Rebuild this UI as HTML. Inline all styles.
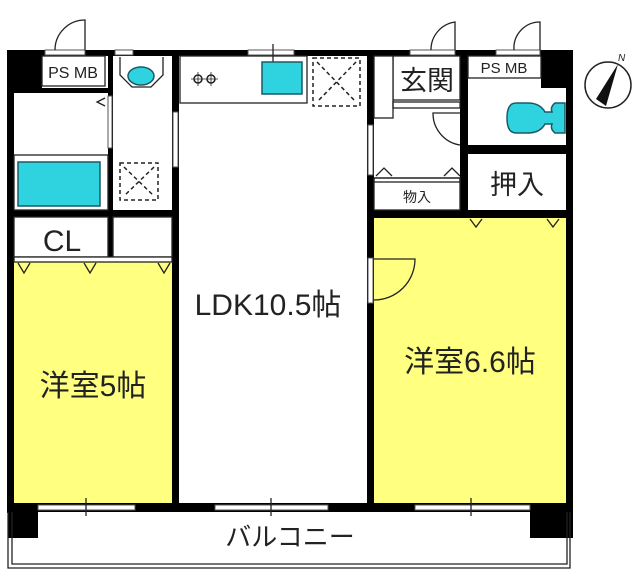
<!DOCTYPE html>
<html><head><meta charset="utf-8"><style>
body{margin:0;background:#fff}
text{font-family:"Liberation Sans","Noto Sans CJK JP",sans-serif;fill:#222}
</style></head><body>
<svg width="640" height="579" viewBox="0 0 640 579" xmlns="http://www.w3.org/2000/svg">
<rect width="640" height="579" fill="#fff"/>
<rect x="14" y="262" width="158" height="241" fill="#ffff80"/>
<rect x="374" y="218" width="192" height="285" fill="#ffff80"/>
<g fill="#000">
<rect x="7" y="50" width="7" height="463"/>
<rect x="566" y="50" width="7" height="463"/>
<rect x="7" y="50" width="566" height="6"/>
<rect x="7" y="503" width="566" height="9"/>
<rect x="7" y="50" width="35" height="42"/>
<rect x="541" y="50" width="32" height="38"/>
<rect x="8" y="505" width="30" height="33"/>
<rect x="530" y="505" width="43" height="33"/>
<rect x="172" y="56" width="7" height="447"/>
<rect x="367" y="56" width="7" height="447"/>
<rect x="108" y="56" width="5" height="206"/>
<rect x="14" y="88" width="94" height="5"/>
<rect x="14" y="210" width="158" height="7"/>
<rect x="460" y="56" width="8" height="160"/>
<rect x="468" y="145" width="98" height="9"/>
<rect x="374" y="210" width="192" height="8"/>
<rect x="14" y="257" width="158" height="5"/>
</g>
<g fill="#fff" stroke="#555" stroke-width="1">
<rect x="45" y="50" width="40" height="5"/>
<rect x="115" y="50" width="18" height="5"/>
<rect x="248" y="50" width="46" height="5"/>
<rect x="410" y="50" width="45" height="5"/>
<rect x="496" y="50" width="44" height="5"/>
<rect x="173" y="112" width="5" height="55"/>
<rect x="108" y="96" width="4" height="52"/>
<rect x="368" y="125" width="5" height="50"/>
<rect x="368" y="258" width="5" height="45"/>
<rect x="38" y="505" width="97" height="5"/>
<rect x="215" y="505" width="113" height="5"/>
<rect x="415" y="505" width="115" height="5"/>
</g>
<g stroke="#222" stroke-width="1.3" fill="none">
<path d="M55 50 A30 30 0 0 1 85 20 V50"/>
<path d="M431 50 A28 28 0 0 1 455 22 V50"/>
<path d="M514 50 A26 26 0 0 1 540 22 V50"/>
<path d="M460 145 A32 32 0 0 1 433 113 H460"/>
<path d="M374 300 A41 41 0 0 0 415 259 H374"/>
<line x1="86" y1="498" x2="86" y2="516"/>
<line x1="271" y1="498" x2="271" y2="516"/>
<line x1="471" y1="498" x2="471" y2="516"/>
<line x1="273" y1="44" x2="273" y2="62"/>
<rect x="42" y="56" width="63" height="30" fill="#fff"/>
<rect x="468" y="56" width="73" height="22" fill="#fff"/>
<rect x="393" y="56" width="67" height="44" fill="#fff"/>
<rect x="374" y="56" width="19" height="62" fill="#fff"/>
<rect x="393" y="102" width="67" height="6"/>
<rect x="374" y="178" width="86" height="32"/>
<rect x="374" y="178" width="86" height="4"/>
<rect x="180" y="56" width="127" height="47"/>
<rect x="14" y="155" width="94" height="55"/>
<rect x="14" y="217" width="94" height="40" fill="#fff"/>
<rect x="113" y="217" width="59" height="40" fill="#fff"/>
<rect x="14" y="257" width="158" height="5" fill="#fff"/>
<path d="M120 57 V75 L132 87 H151 L163 75 V57"/>
<path d="M8 512 V568 H570 V512"/>
<path d="M12 512 V564 H567 V512"/>
<path d="M18 263 L24 273 L30 263 M84 263 L90 273 L96 263 M158 263 L164 273 L170 263"/>
<path d="M376 176 L384 168 L392 176 M444 176 L452 168 L460 176"/>
<path d="M470 219 L476 227 L482 219 M547 219 L553 227 L559 219"/>
<path d="M105 98 L97 102 L105 106"/>
</g>
<g fill="#2fd3e0" stroke="#1a5a66" stroke-width="1.5">
<ellipse cx="141" cy="76" rx="13" ry="9"/>
<rect x="262" y="62" width="40" height="32"/>
<rect x="18" y="162" width="82" height="44"/>
<path d="M565 103 H555 Q550 107 552 112 H545 Q540 103 528 103 H516 Q507 103 507 118 Q507 133 516 133 H528 Q540 133 545 124 H552 Q550 129 555 133 H565 Z"/>
</g>
<g stroke="#222" stroke-width="1.5" fill="none">
<circle cx="198" cy="79" r="4"/><circle cx="211" cy="79" r="4"/>
<path d="M191 79h14M204 79h14M198 72v14M211 72v14" stroke-width="0.8"/>
</g>
<g stroke="#222" stroke-width="1.5" fill="none" stroke-dasharray="4 3">
<rect x="120" y="163" width="38" height="37"/>
<path d="M124 167 L154 196 M154 167 L124 196"/>
<rect x="313" y="58" width="47" height="48"/>
<path d="M317 62 L356 102 M356 62 L317 102"/>
</g>
<circle cx="608" cy="85" r="23" fill="#fff" stroke="#222" stroke-width="1.5"/>
<path d="M618 64 L596 99 L606 106 Z" fill="#111"/>
<text x="618" y="61" font-size="10" font-style="italic">N</text>
<g text-anchor="middle">
<text x="73" y="78" font-size="16">PS MB</text>
<text x="504" y="73" font-size="15">PS MB</text>
<text x="427" y="90" font-size="27">玄関</text>
<text x="517" y="194" font-size="27">押入</text>
<text x="417" y="202" font-size="14">物入</text>
<text x="62" y="251" font-size="30">CL</text>
<text x="268" y="315" font-size="30">LDK10.5帖</text>
<text x="93" y="396" font-size="30">洋室5帖</text>
<text x="470" y="372" font-size="30">洋室6.6帖</text>
<text x="290" y="546" font-size="26">バルコニー</text>
</g>
</svg>
</body></html>
